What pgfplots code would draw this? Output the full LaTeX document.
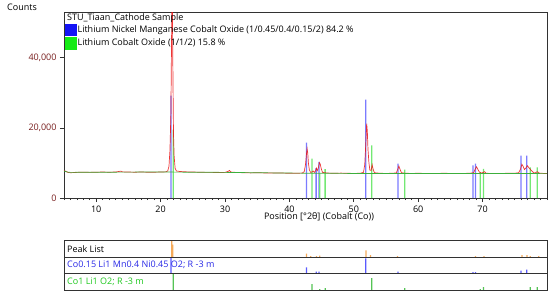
\documentclass[border=0pt]{standalone}
\usepackage{fontspec}
\setmainfont{Open Sans}
\usepackage{pgfplots}
\usepackage{pgfplotstable}
\pgfplotsset{compat=1.18}

\definecolor{frame}{RGB}{50,50,50}
\definecolor{tickred}{RGB}{120,30,30}
\definecolor{obsred}{RGB}{235,20,20}
\definecolor{stickblue}{RGB}{90,90,255}
\definecolor{stickgreen}{RGB}{100,230,100}
\definecolor{bggreen}{RGB}{60,175,60}
\definecolor{legblue}{RGB}{20,20,245}
\definecolor{leggreen}{RGB}{20,235,20}
\definecolor{peakorange}{RGB}{245,170,90}
\definecolor{txtblue}{RGB}{40,40,230}
\definecolor{txtgreen}{RGB}{30,200,30}

% measured pattern (2theta, counts)
\pgfplotstableread{
x y
5.0 7800
5.3 7600
5.6 7300
6.0 7200
6.5 7250
7.0 7300
8.0 7350
9.0 7300
10.0 7350
11.0 7400
12.0 7350
13.0 7400
13.5 7550
13.8 7650
14.1 7450
15.0 7400
16.0 7350
17.0 7400
18.0 7350
19.0 7350
20.0 7400
20.8 7450
21.1 7700
21.3 9000
21.45 13500
21.6 24000
21.7 45000
21.8 62000
21.9 38000
22.0 18500
22.1 12000
22.25 8500
22.45 7700
23.0 7550
24.0 7450
25.0 7400
26.0 7350
27.0 7300
28.0 7300
29.0 7250
30.0 7300
30.5 7600
30.7 7850
30.9 7400
32.0 7250
33.0 7200
34.0 7150
35.0 7200
36.0 7150
37.0 7100
38.0 7150
39.0 7100
40.0 7050
41.0 7050
42.0 7100
42.3 7500
42.5 9500
42.65 12500
42.75 14100
42.85 12800
42.95 10000
43.1 8000
43.3 7300
43.5 7400
43.7 7700
43.9 7300
44.05 7700
44.2 8500
44.35 7800
44.5 8600
44.65 10100
44.8 9600
44.95 8300
45.15 7300
45.5 7200
46.0 7100
47.0 7050
48.0 7100
49.0 7050
50.0 7000
51.0 7050
51.5 7300
51.7 9500
51.85 15000
52.0 21200
52.1 19000
52.2 14000
52.35 10000
52.5 7900
52.7 7900
52.85 9500
53.0 8200
53.2 7200
54.0 7050
55.0 7000
56.0 7050
56.6 7150
56.85 8300
57.0 9100
57.15 8300
57.4 7200
58.0 7050
59.0 7000
60.0 7050
61.0 7000
62.0 7000
63.0 7000
64.0 7050
65.0 7000
66.0 7000
67.0 7000
68.0 7050
68.6 7200
68.85 8200
69.05 8900
69.25 8200
69.5 7400
69.8 7100
70.1 7300
70.3 7500
70.5 7100
71.0 7000
72.0 7000
73.0 7000
74.0 7050
75.0 7050
75.6 7200
75.9 8300
76.1 9600
76.3 9000
76.5 8100
76.7 8500
76.95 9200
77.2 8600
77.5 8000
77.8 7400
78.1 7100
78.5 7500
78.8 7100
79.5 7000
80.0 7000
}\obs

\pgfplotstableread{
x y
5.0 7700
5.5 7400
6.0 7300
10.0 7350
20.0 7400
25.0 7350
30.0 7300
40.0 7100
50.0 7000
60.0 7000
80.0 6950
}\bg

% reference sticks: position, counts, height in peak-list row
\pgfplotstableread{
x y h
21.6 29200 1.0
42.66 15800 0.37
44.15 8500 0.12
44.6 10300 0.12
51.85 28000 0.92
56.87 9800 0.12
68.5 9300 0.08
68.9 9800 0.08
75.95 12100 0.18
76.85 12100 0.24
}\nmc

\pgfplotstableread{
x y h
21.95 19500 1.0
43.5 11200 0.35
44.7 7000 0.06
45.55 8200 0.12
52.8 15000 0.72
57.9 8100 0.12
69.65 7300 0.06
70.15 8300 0.18
77.4 8700 0.18
78.5 8700 0.18
}\lco

\pgfplotstableread{
x h
21.75 1.0
21.88 0.75
42.66 0.2
43.3 0.06
44.2 0.06
44.7 0.09
51.9 0.4
52.6 0.12
56.8 0.06
68.9 0.06
70.2 0.06
76.1 0.12
76.9 0.12
77.4 0.06
78.7 0.06
}\peaks

\pgfplotsset{
  every axis/.append style={font=\fontsize{9}{11}\selectfont},
  /pgf/number format/assume math mode=true,
  rowaxis/.style={
    anchor=south west, scale only axis, width=483pt, height=16.5pt,
    xmin=5, xmax=80, ymin=0, ymax=1, axis lines=none, clip=false,
    ybar, bar width=1.25pt,
  },
}

\begin{document}
\begin{tikzpicture}
\path[use as bounding box] (0pt,0pt) rectangle (550pt,-294pt);
\node[anchor=west, font=\fontsize{9}{11}\selectfont, inner sep=0pt] at (7pt,-7pt) {Counts};

\begin{axis}[
    name=main,
    at={(64pt,-198pt)}, anchor=south west,
    scale only axis, width=483pt, height=186pt,
    xmin=5, xmax=80, ymin=0, ymax=53000,
    axis line style={frame, line width=0.8pt},
    tick style={frame, line width=0.6pt},
    tick align=outside,
    xtick pos=bottom, ytick pos=left,
    xtick={10,20,...,70},
    minor xtick={5,6,...,80},
    major tick length=4pt, minor tick length=2pt,
    ytick={0,20000,40000},
    yticklabel style={text=tickred, /pgf/number format/1000 sep={,}},
    scaled y ticks=false,
    legend style={at={(rel axis cs:0,1)}, anchor=north west, yshift=-11pt, xshift=0pt,
        draw=none, fill=none, inner sep=0.5pt, row sep=1.6pt,
        nodes={inner sep=1pt, font=\fontsize{9}{11}\selectfont}},
    legend cell align=left,
    legend image code/.code={\fill[#1] (-1pt,-5.8pt) rectangle (10.5pt,5.8pt);},
]
\addlegendimage{legblue}
\addlegendentry{Lithium Nickel Manganese Cobalt Oxide (1/0.45/0.4/0.15/2) 84.2 \%}
\addlegendimage{leggreen}
\addlegendentry{Lithium Cobalt Oxide (1/1/2) 15.8 \%}

\addplot[ybar, bar width=1.3pt, bar shift=0pt, fill=stickblue, draw=none, fill opacity=0.8, forget plot] table[x=x,y=y] {\nmc};
\addplot[ybar, bar width=1.3pt, bar shift=0pt, fill=stickgreen, draw=none, fill opacity=0.9, forget plot] table[x=x,y=y] {\lco};
\addplot[obsred, opacity=0.85, line width=0.7pt, forget plot] table[x=x,y=y] {\obs};
\addplot[bggreen, line width=0.7pt, forget plot] table[x=x,y=y] {\bg};

\node[anchor=west, inner sep=0pt] at ([xshift=3pt,yshift=-6.5pt]rel axis cs:0,1) {STU\_Tiaan\_Cathode Sample};
\end{axis}

\node[font=\fontsize{9}{11}\selectfont] at (319pt,-217pt) {Position [°2θ] (Cobalt (Co))};

% peak list rows
\begin{axis}[rowaxis, at={(64pt,-257pt)}]
\addplot[fill=peakorange, draw=none, bar shift=0pt] table[x=x, y=h] {\peaks};
\node[anchor=west, inner sep=0pt] at ([xshift=3pt]rel axis cs:0,0.5) {Peak List};
\end{axis}
\begin{axis}[rowaxis, at={(64pt,-273.5pt)}]
\addplot[fill=stickblue, draw=none, bar shift=0pt] table[x=x, y=h] {\nmc};
\node[anchor=west, inner sep=0pt, text=txtblue] at ([xshift=3pt]rel axis cs:0,0.5) {Co0.15 Li1 Mn0.4 Ni0.45 O2; R -3 m};
\end{axis}
\begin{axis}[rowaxis, at={(64pt,-290pt)}]
\addplot[fill=stickgreen!85!black, draw=none, bar shift=0pt] table[x=x, y=h] {\lco};
\node[anchor=west, inner sep=0pt, text=txtgreen] at ([xshift=3pt]rel axis cs:0,0.5) {Co1 Li1 O2; R -3 m};
\end{axis}

% frame of the peak list
\begin{axis}[
    at={(64pt,-290pt)}, anchor=south west,
    scale only axis, width=483pt, height=49.5pt,
    xmin=5, xmax=80, ymin=0, ymax=3,
    axis line style={frame, line width=0.9pt},
    xtick=\empty,
    ytick={1,2}, yticklabels={}, major tick length=0pt,
    ymajorgrids, grid style={frame, line width=0.8pt},
]
\end{axis}
\end{tikzpicture}
\end{document}
